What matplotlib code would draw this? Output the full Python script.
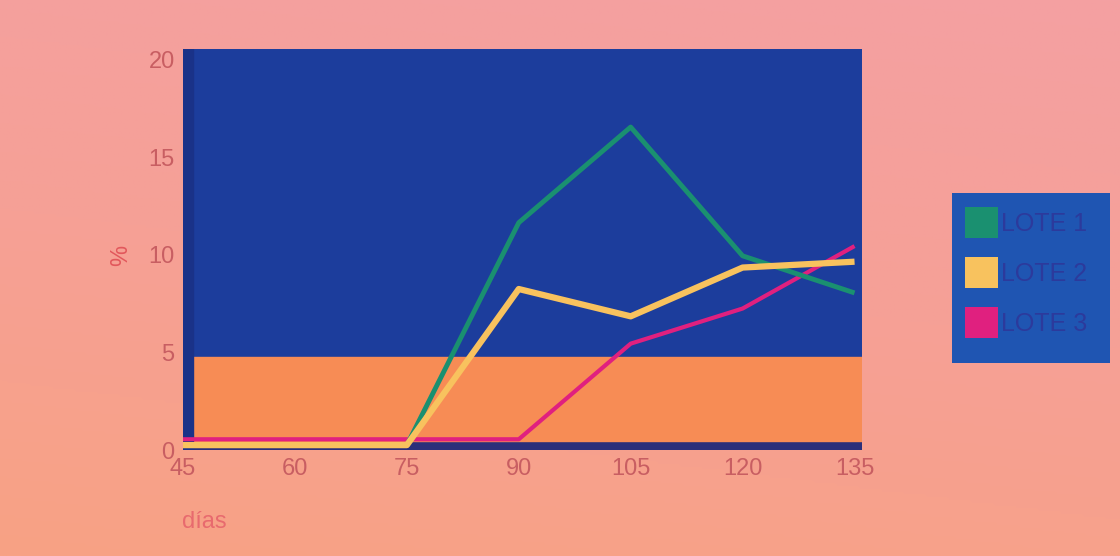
"""Porcentaje por lote a lo largo de los días (estilo diapositiva)."""

import matplotlib
matplotlib.use("Agg")
import matplotlib.pyplot as plt
import matplotlib.transforms as mtransforms
from matplotlib.colors import LinearSegmentedColormap
from matplotlib.patches import Rectangle
import numpy as np

# ---- data ------------------------------------------------------------
dias = [45, 60, 75, 90, 105, 120, 135]
lote1 = [0, 0, 0, 11.4, 16.3, 9.7, 7.8]
lote2 = [0, 0, 0, 8.0, 6.6, 9.1, 9.4]
lote3 = [0.3, 0.3, 0.3, 0.3, 5.2, 7.0, 10.2]
series = ["LOTE 1", "LOTE 2", "LOTE 3"]
yticks = [0, 5, 10, 15, 20]

colors = ["#1a9070", "#f8c25e", "#e0207f"]
widths = [3.5, 4.5, 3.0]
zorders = [4, 5, 3]
band_top = 4.5

W, H = 1120, 556
fig = plt.figure(figsize=(W / 100, H / 100), dpi=100)

# ---- pink/salmon backdrop --------------------------------------------
bg = fig.add_axes([0, 0, 1, 1], zorder=-5)
cmap = LinearSegmentedColormap.from_list("bg", ["#f8a284", "#f6a096", "#f4a0a2"])
yy = np.linspace(0, 1, 200)[:, None]
xx = np.linspace(0, 1, 300)[None, :]
bg.imshow(yy * 0.8 + xx * 0.2, cmap=cmap, aspect="auto", origin="lower",
          extent=[0, 1, 0, 1])
bg.axis("off")

# ---- main axes -------------------------------------------------------
def px(x0, y0, x1, y1):
    return [x0 / W, 1 - y1 / H, (x1 - x0) / W, (y1 - y0) / H]

ax = fig.add_axes(px(183, 49, 862, 450))
ax.set_xlim(45, 136)
ax.set_ylim(-0.25, 20.3)
ax.set_facecolor("#1c3d9c")
ax.axhspan(-0.25, 0.2, color="#2a2f7a", zorder=1)
ax.axhspan(0.2, band_top, color="#f78c55", zorder=1)
ax.axvspan(45, 46.4, color="#1a3288", zorder=1)

for vals, name, c, lw, z in zip([lote1, lote2, lote3], series, colors,
                                widths, zorders):
    ax.plot(dias, vals, color=c, lw=lw, solid_joinstyle="round",
            solid_capstyle="butt", zorder=z, label=name)

for s in ax.spines.values():
    s.set_visible(False)
ax.set_xticks(dias)
ax.set_yticks(yticks)
ax.tick_params(length=0, labelsize=17, labelcolor="#c85e62", pad=6)
for lab in ax.get_xticklabels() + ax.get_yticklabels():
    lab.set_family("Liberation Sans")
off = mtransforms.ScaledTranslation(0, -5 / 100, fig.dpi_scale_trans)
for lab in ax.get_yticklabels():
    lab.set_transform(lab.get_transform() + off)

fig.text(121 / W, 1 - 255 / H, "%", rotation=90, fontsize=17,
         color="#e2585c", ha="center", va="center", family="Liberation Sans")
fig.text(182 / W, 1 - 522 / H, "días", fontsize=17, color="#e86a6e",
         ha="left", va="center", family="Liberation Sans")

# ---- legend box ------------------------------------------------------
lg = fig.add_axes(px(952, 193, 1110, 363))
lg.set_xlim(0, 158)
lg.set_ylim(170, 0)
lg.set_facecolor("#1f55b2")
for s in lg.spines.values():
    s.set_visible(False)
lg.set_xticks([])
lg.set_yticks([])
for i, (name, c) in enumerate(zip(series, colors)):
    y0 = 14 + i * 50
    lg.add_patch(Rectangle((13, y0), 33, 31, facecolor=c, edgecolor="none"))
    lg.text(49, y0 + 17, name, fontsize=18, color="#2c3a9c",
            va="center", ha="left", family="Liberation Sans")

fig.savefig("out.png", dpi=100)
